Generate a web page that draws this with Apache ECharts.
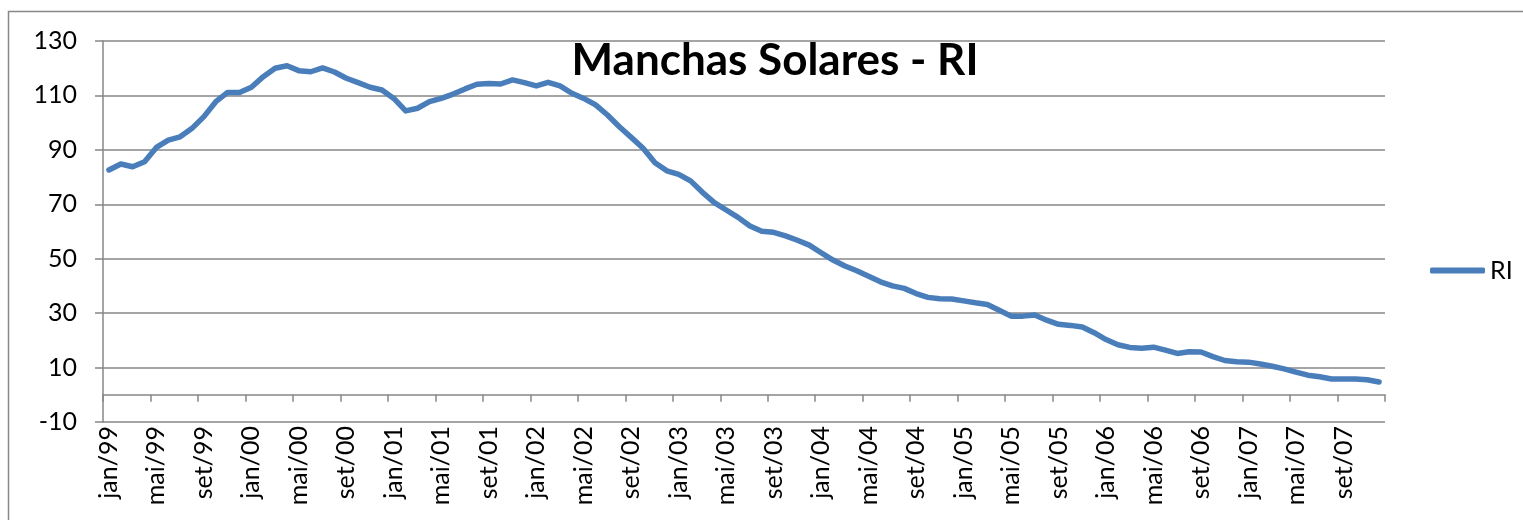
<!DOCTYPE html>
<html>
<head>
<meta charset="utf-8">
<script src="https://cdn.jsdelivr.net/npm/echarts@6/dist/echarts.min.js"></script>
<style>
  html, body { margin: 0; padding: 0; background: #fff; }
  #chart { width: 1523px; height: 520px; }
</style>
</head>
<body>
<div id="chart"></div>
<script>
// meses jan/99 .. dez/07
const monthNames = ['jan', 'fev', 'mar', 'abr', 'mai', 'jun', 'jul', 'ago', 'set', 'out', 'nov', 'dez'];
const years = ['99', '00', '01', '02', '03', '04', '05', '06', '07'];
const categories = [];
years.forEach(y => monthNames.forEach(m => categories.push(m + '/' + y)));

// RI
const riValues = [
  82.6, 84.8, 83.8, 85.6, 90.9, 93.6, 94.8, 97.9, 102.2, 107.7, 111.1, 111.1,
  113.0, 116.9, 120.0, 120.9, 119.1, 118.7, 120.1, 118.6, 116.3, 114.7, 113.0, 112.0,
  108.9, 104.3, 105.3, 107.7, 108.9, 110.5, 112.4, 114.1, 114.4, 114.2, 115.7, 114.7,
  113.5, 114.8, 113.5, 110.8, 108.9, 106.5, 102.8, 98.5, 94.6, 90.6, 85.3, 82.3,
  81.0, 78.6, 74.4, 70.6, 67.9, 65.2, 62.0, 60.1, 59.7, 58.4, 56.8, 55.0,
  52.2, 49.5, 47.3, 45.6, 43.6, 41.5, 40.0, 39.1, 37.2, 35.8, 35.3, 35.2,
  34.5, 33.8, 33.2, 31.1, 28.9, 28.9, 29.3, 27.4, 25.9, 25.5, 24.9, 22.8,
  20.3, 18.4, 17.4, 17.1, 17.5, 16.4, 15.2, 15.8, 15.7, 14.0, 12.6, 12.1,
  12.0, 11.3, 10.5, 9.5, 8.3, 7.2, 6.6, 5.8, 5.8, 5.8, 5.5, 4.7
];

const titleText = 'Manchas Solares - RI';
const seriesName = 'RI';

const gridColor = '#878787';
const lineColor = '#4a7ebb';
const font = 'Lato';

let chart = echarts.init(document.getElementById('chart'), null, { width: 1523, height: 520 });

let option = {
  animation: false,
  backgroundColor: '#fff',
  textStyle: { fontFamily: font },
  title: {
    text: titleText,
    left: 770,
    textAlign: 'center',
    top: 34,
    textStyle: { fontFamily: font, fontSize: 44, fontWeight: 'bold', color: '#000' }
  },
  legend: {
    data: [{ name: seriesName, icon: 'roundRect' }],
    left: 1425,
    top: 253,
    itemWidth: 55,
    itemHeight: 6,
    itemGap: 5,
    itemStyle: { color: lineColor },
    textStyle: { fontFamily: font, fontSize: 25, color: '#000', padding: [0, 0, 0, 0] }
  },
  graphic: [{
    type: 'rect',
    shape: { x: 8.5, y: 11.5, width: 1600, height: 600 },
    style: { fill: 'none', stroke: gridColor, lineWidth: 1.5 },
    silent: true
  }],
  grid: { left: 103, right: 138, top: 41, bottom: 98 },
  xAxis: [{
    // linha do eixo no zero, com marcas
    type: 'category',
    data: categories,
    boundaryGap: true,
    axisLine: { onZero: true, lineStyle: { color: gridColor, width: 1.5 } },
    axisTick: { show: true, interval: 3, length: 7, lineStyle: { color: gridColor, width: 1.5 } },
    axisLabel: { show: false },
    splitLine: { show: false }
  }, {
    // rotulos na base
    type: 'category',
    data: categories,
    position: 'bottom',
    boundaryGap: true,
    axisLine: { show: false, onZero: false },
    axisTick: { show: false },
    axisLabel: {
      interval: 3,
      rotate: 90,
      margin: 4,
      fontFamily: font,
      fontSize: 25,
      color: '#000'
    },
    splitLine: { show: false }
  }],
  yAxis: {
    type: 'value',
    min: -10,
    max: 130,
    interval: 20,
    axisLine: { show: true, lineStyle: { color: gridColor, width: 1.5 } },
    axisTick: { show: true, length: 8, lineStyle: { color: gridColor, width: 1.5 } },
    axisLabel: { margin: 26, fontFamily: font, fontSize: 25, color: '#000' },
    splitLine: { lineStyle: { color: gridColor, width: 1.5 } }
  },
  series: [{
    name: seriesName,
    type: 'line',
    xAxisIndex: 0,
    data: riValues,
    symbol: 'none',
    lineStyle: { color: lineColor, width: 5.5, cap: 'round', join: 'round' },
    itemStyle: { color: lineColor }
  }]
};
chart.setOption(option);
</script>
</body>
</html>
